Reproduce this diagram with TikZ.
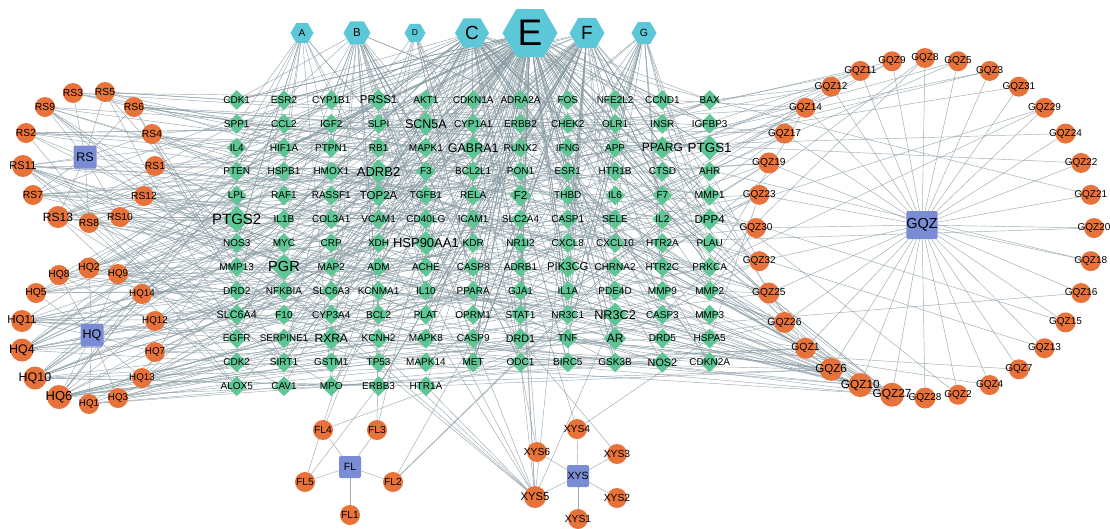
\documentclass[tikz,border=0pt]{standalone}
\usepackage{fontspec}
\setmainfont{Liberation Sans}
\usetikzlibrary{shapes.geometric}
\pgfdeclarelayer{back}
\pgfdeclarelayer{bg}
\pgfsetlayers{back,bg,main}
\definecolor{edgec}{HTML}{8A9DA5}
\definecolor{orangec}{HTML}{E8733A}
\definecolor{bluec}{HTML}{7A8CD4}
\definecolor{greenc}{HTML}{5EC594}
\definecolor{cyanc}{HTML}{5CC8D7}
\tikzset{
  edge/.style={draw=edgec, line width=0.45pt, opacity=0.85},
  gene/.style={diamond, aspect=1, fill=greenc, inner sep=0pt},
  ingr/.style={circle, fill=orangec, inner sep=0pt},
  herb/.style={rectangle, rounded corners=2pt, fill=bluec, inner sep=0pt, minimum size=23pt},
  hexa/.style={regular polygon, regular polygon sides=6, fill=cyanc, inner sep=0pt},
}
\newcommand{\fsz}[1]{\fontsize{#1}{#1}\selectfont}
\def\genelist{CDK1/10, ESR2/10, CYP1B1/10, PRSS1/11.4, AKT1/10, CDKN1A/10, ADRA2A/10, FOS/10, NFE2L2/10, CCND1/10, BAX/10,
SPP1/10, CCL2/10, IGF2/10, SLPI/10, SCN5A/12.5, CYP1A1/10, ERBB2/10, CHEK2/10, OLR1/10, INSR/10, IGFBP3/10,
IL4/10, HIF1A/10, PTPN1/10, RB1/10, MAPK1/10, GABRA1/12.5, RUNX2/10, IFNG/10, APP/10, PPARG/12, PTGS1/13.4,
PTEN/10, HSPB1/10, HMOX1/10, ADRB2/13, F3/10, BCL2L1/10, PON1/10, ESR1/10, HTR1B/10, CTSD/10, AHR/10,
LPL/10, RAF1/10, RASSF1/10, TOP2A/11.5, TGFB1/10, RELA/10, F2/11.5, THBD/10, IL6/10, F7/10, MMP1/10.4,
PTGS2/15, IL1B/10, COL3A1/10, VCAM1/10, CD40LG/10, ICAM1/10, SLC2A4/10, CASP1/10, SELE/10, IL2/10, DPP4/11.5,
NOS3/10, MYC/10, CRP/10, XDH/10, HSP90AA1/13, KDR/10, NR1I2/10, CXCL8/10, CXCL10/10, HTR2A/10, PLAU/10,
MMP13/10, PGR/14.6, MAP2/10, ADM/10, ACHE/10, CASP8/10, ADRB1/10, PIK3CG/11.3, CHRNA2/10, HTR2C/10, PRKCA/10,
DRD2/10, NFKBIA/10, SLC6A3/10, KCNMA1/10, IL10/10, PPARA/10, GJA1/10, IL1A/10, PDE4D/10, MMP9/10, MMP2/10,
SLC6A4/10.8, F10/10, CYP3A4/10, BCL2/10, PLAT/10, OPRM1/10, STAT1/10, NR3C1/10, NR3C2/12.7, CASP3/10, MMP3/10,
EGFR/10, SERPINE1/9.8, RXRA/12, KCNH2/10, MAPK8/10, CASP9/10, DRD1/10.8, TNF/10, AR/12, DRD5/10, HSPA5/10,
CDK2/10, SIRT1/10, GSTM1/10, TP53/10, MAPK14/10, MET/10, ODC1/10, BIRC5/10, GSK3B/10, NOS2/10.8, CDKN2A/10,
ALOX5/10, CAV1/10, MPO/10, ERBB3/10, HTR1A/10}
\begin{document}
\begin{tikzpicture}[x=1pt,y=-1pt]
\begin{pgfonlayer}{back}
\fill[white] (0,0) rectangle (1110,528);
\end{pgfonlayer}
\useasboundingbox (0,0) rectangle (1110,528);

% ---------- target grid ----------
\foreach \nm/\fs [count=\k from 0] in \genelist {
  \pgfmathtruncatemacro{\gr}{int(\k/11)}
  \pgfmathtruncatemacro{\gc}{mod(\k,11)}
  \pgfmathtruncatemacro{\id}{\k+1}
  \pgfmathsetmacro{\ds}{20+(\fs-10)*1.4}
  \node[gene, minimum size=\ds pt] (t\id) at ({236.7+47.3*\gc},{100+23.85*\gr}) {};
}
\foreach \nm/\fs [count=\id] in \genelist {
  \node[font=\fsz{\fs}, inner sep=0pt] (l\id) at (t\id) {\nm};
}

% ---------- hexagons ----------
\foreach \nm/\x/\sz/\fs/\tx in {hA/302/23/10/A, hB/357/27/11.5/B, hD/415/21/8.5/D, hC/472/34/19/C, hE/530/55/37/E, hF/587/35/19/F, hG/644/25/10.5/G}
  \node[hexa, minimum size=\sz pt, font=\fsz{\fs}] (\nm) at (\x,33) {\tx};

% ---------- herbs ----------
\node[herb, font=\fsz{12.5}] (RS) at (85,157) {RS};
\node[herb, font=\fsz{12.5}] (HQ) at (92,335) {HQ};
\node[herb, minimum size=28pt, font=\fsz{14.5}] (GQZ) at (922,225) {GQZ};
\node[herb, minimum size=22pt, font=\fsz{10.5}] (FL) at (350,467) {FL};
\node[herb, minimum size=22pt, font=\fsz{10.5}] (XYS) at (578,476) {XYS};

% ---------- ingredients ----------
\foreach \nm/\x/\y/\sz/\fs in {
  RS1/155/166/20/10.3, RS2/26/133/20/10.3, RS3/73/93/20/10.3, RS4/152/134/20/10.3, RS5/105/92/20/10.3,
  RS6/134/107/20/10.3, RS7/33/195/20/10.3, RS8/89/223/20/10.3, RS9/45/107/20/10.3, RS10/120/217/20/10.3,
  RS11/23/166/22/11.2, RS12/144/196/20/10.3, RS13/58/217/22/12,
  HQ1/89/404/20/9.8, HQ2/89/268/21/10.5, HQ3/118/398/20/9.8, HQ4/22/350/23/12.5, HQ5/36/293/20/10.3,
  HQ6/59/397/24/13, HQ7/155/352/20/9.8, HQ8/59/275/20/10.3, HQ9/118/274/20/9.8, HQ10/35/378/23/12.5,
  HQ11/22/321/22/11.5, HQ12/155/321/20/9.8, HQ13/142/378/20/9.8, HQ14/142/294/20/9.8,
  FL1/350/515/20/10.3, FL2/393/482/20/10.3, FL3/377/430/20/10.3, FL4/323/430/20/10.3, FL5/305/482/20/10.3,
  XYS1/578/519/20/10.3, XYS2/617/498/20/10.3, XYS3/617/454/20/10.3, XYS4/577/429/20/10.3,
  XYS5/535/497/22/11.3, XYS6/537/452/20/10.3}
  \node[ingr, minimum size=\sz pt, label={[font=\fsz{\fs}, inner sep=0pt]center:\nm}] (\nm) at (\x,\y) {};

\foreach \nm/\fs/\sz [count=\n from 0] in {
  GQZ8/10/20, GQZ5/10/20, GQZ3/10/20, GQZ31/10/20, GQZ29/10/20, GQZ24/10/20, GQZ22/10/20,
  GQZ21/10/20, GQZ20/10/20, GQZ18/10/20, GQZ16/10/20, GQZ15/10/20, GQZ13/10/20, GQZ7/10/20,
  GQZ4/10/20, GQZ2/10/20, GQZ28/10/21, GQZ27/11.8/24, GQZ10/11.8/24, GQZ6/11.6/23, GQZ1/10.4/21,
  GQZ26/10.4/21, GQZ25/10.2/21, GQZ32/10/20, GQZ30/10/20, GQZ23/10/20, GQZ19/10.2/21, GQZ17/10/20,
  GQZ14/10/20, GQZ12/10/20, GQZ11/10/20, GQZ9/10/20}
  \node[ingr, minimum size=\sz pt, label={[font=\fsz{\fs}, inner sep=0pt]center:\nm}] (\nm) at ({925+169*cos(90-11.25*\n)},{228-170*sin(90-11.25*\n)}) {};

% ---------- edges ----------
\begin{pgfonlayer}{bg}
\pgfmathsetseed{20240}
% herb -> ingredient
\foreach \i in {1,...,13} \draw[edge] (RS) -- (RS\i);
\foreach \i in {1,...,14} \draw[edge] (HQ) -- (HQ\i);
\foreach \i in {1,...,32} \draw[edge] (GQZ) -- (GQZ\i);
\foreach \i in {1,...,5} \draw[edge] (FL) -- (FL\i);
\foreach \i in {1,...,6} \draw[edge] (XYS) -- (XYS\i);
% hexagon -> targets
\foreach \h/\n/\ca/\cb in {hA/14/0/4, hB/30/0/6, hD/10/1/6, hC/60/0/10, hE/130/0/10, hF/60/0/10, hG/22/5/10}{
  \foreach \j in {1,...,\n}{
    \pgfmathrandominteger{\rc}{\ca}{\cb}
    \pgfmathrandominteger{\rr}{0}{12}
    \pgfmathtruncatemacro{\ti}{\rr*11+\rc+1}
    \pgfmathtruncatemacro{\ti}{ifthenelse(\ti>137,\ti-11,\ti)}
    \draw[edge] (\h) -- (t\ti);
  }
}
% ingredient -> targets
\foreach \s/\n in {RS1/6, RS2/8, RS3/5, RS4/7, RS5/6, RS6/7, RS7/9, RS8/6, RS9/8, RS10/6, RS11/14, RS12/6, RS13/14,
  HQ1/5, HQ2/10, HQ3/6, HQ4/14, HQ5/8, HQ6/18, HQ7/6, HQ8/7, HQ9/7, HQ10/15, HQ11/12, HQ12/5, HQ13/6, HQ14/6,
  GQZ10/14, GQZ27/12, GQZ6/12, GQZ1/8, GQZ26/7, GQZ25/6, GQZ32/5, GQZ30/5, GQZ23/5, GQZ19/6, GQZ17/5,
  GQZ14/4, GQZ12/4, GQZ11/3, GQZ9/3, GQZ8/2, GQZ5/2, GQZ3/2, GQZ31/1, GQZ29/2, GQZ24/1, GQZ22/1, GQZ21/1,
  GQZ20/1, GQZ18/1, GQZ16/1, GQZ15/1, GQZ13/1, GQZ7/1, GQZ4/1, GQZ2/1, GQZ28/2,
  FL2/3, FL3/2, FL4/2, FL5/2, XYS3/1, XYS4/2, XYS5/12, XYS6/2}{
  \foreach \j in {1,...,\n}{
    \pgfmathrandominteger{\ti}{1}{137}
    \draw[edge] (\s) -- (t\ti);
  }
}
\end{pgfonlayer}
\end{tikzpicture}
\end{document}
